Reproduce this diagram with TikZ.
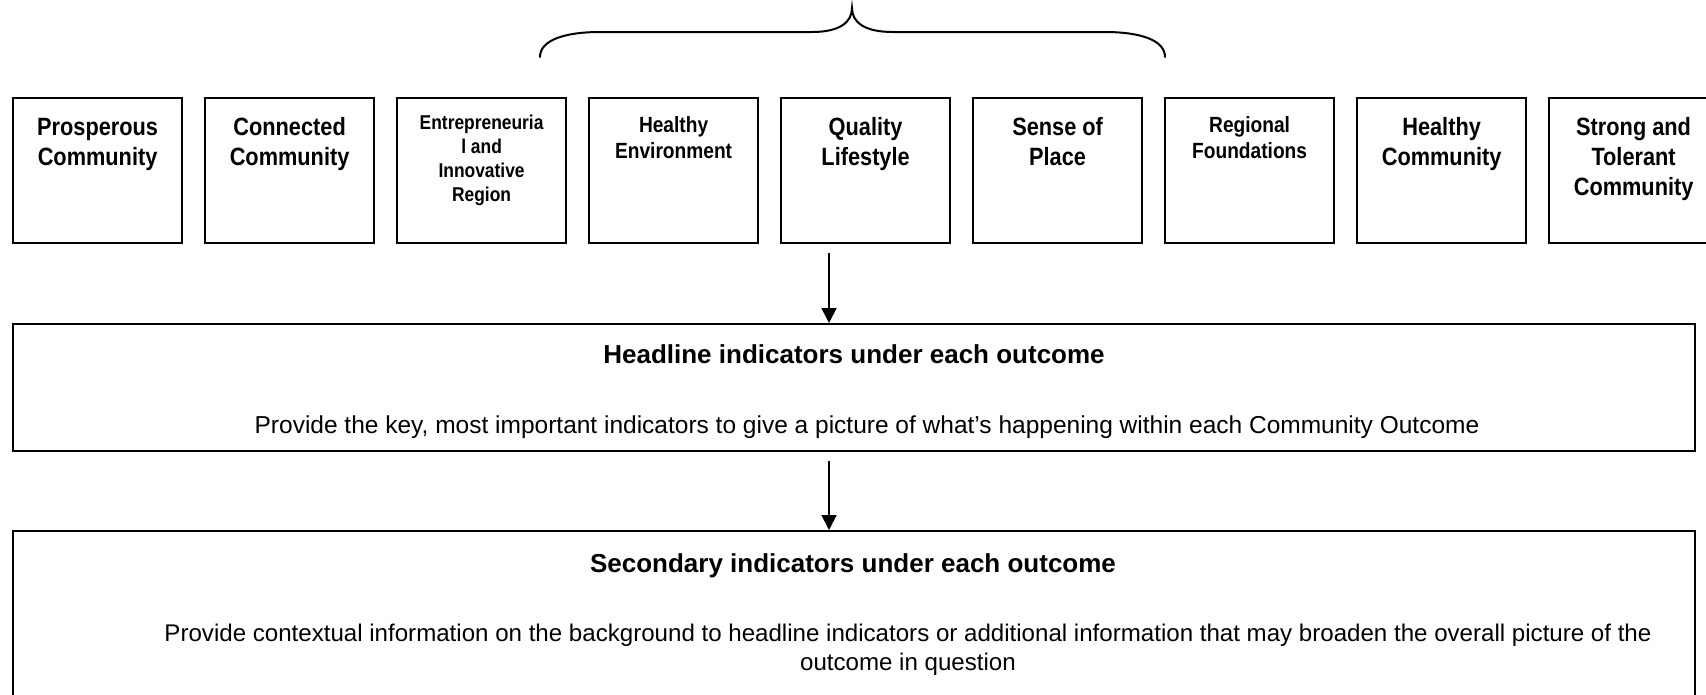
\documentclass[tikz,border=0pt]{standalone}
\usepackage{fontspec}
\setmainfont{Liberation Sans}
\newfontfamily\narrowfont{Liberation Sans}[FakeStretch=0.87]
\usetikzlibrary{arrows.meta,calc}
\begin{document}
\begin{tikzpicture}[x=1pt,y=-1pt,
  obox/.style={draw, line width=2.2pt, minimum width=169pt, minimum height=145pt, inner sep=0pt, anchor=north west},
  bigbox/.style={draw, line width=2pt, minimum width=1682pt, inner sep=0pt, anchor=north west},
  lab/.style={font=\narrowfont\bfseries\fontsize{25}{30}\selectfont, align=center, anchor=base, inner sep=0pt},
  labm/.style={font=\narrowfont\bfseries\fontsize{22}{26}\selectfont, align=center, anchor=base, inner sep=0pt},
  labs/.style={font=\narrowfont\bfseries\fontsize{20}{24}\selectfont, align=center, anchor=base, inner sep=0pt},
  ttl/.style={font=\bfseries\fontsize{26}{30}\selectfont, anchor=base, inner sep=0pt},
  bodytxt/.style={font=\fontsize{24.5}{29}\selectfont, align=center, anchor=base, inner sep=0pt},
  arr/.style={line width=1.8pt, -{Triangle[length=15pt,width=15pt]}},
  bracestyle/.style={line width=2pt, line cap=round}
]
\useasboundingbox (0,0) rectangle (1706,694);
\fill[white] (0,0) rectangle (1706,694);
\clip (0,0) rectangle (1706,694);

% brace
\draw[bracestyle] (540,57) .. controls (540,40) and (565,32) .. (600,32) -- (812,32)
  .. controls (840,32) and (852,22) .. (852,8)
  .. controls (852,22) and (864,32) .. (893,32) -- (1105,32)
  .. controls (1140,32) and (1165,40) .. (1165,57);

% outcome boxes
\node[obox] (b1) at (12,97) {};
\node[obox] (b2) at (204,97) {};
\node[obox] (b3) at (396,97) {};
\node[obox] (b4) at (588,97) {};
\node[obox] (b5) at (780,97) {};
\node[obox] (b6) at (972,97) {};
\node[obox] (b7) at (1164,97) {};
\node[obox] (b8) at (1356,97) {};
\node[obox] (b9) at (1548,97) {};

% labels (anchor base = baseline of last line)
\node[lab]  (t1) at ($(b1.north)+(0,68)$) {Prosperous\\Community};
\node[lab]  (t2) at ($(b2.north)+(0,68)$) {Connected\\Community};
\node[labs] (t3) at ($(b3.north)+(0,104)$) {Entrepreneuria\\l and\\Innovative\\Region};
\node[labm] (t4) at ($(b4.north)+(0,61)$) {Healthy\\Environment};
\node[lab]  (t5) at ($(b5.north)+(0,68)$) {Quality\\Lifestyle};
\node[lab]  (t6) at ($(b6.north)+(0,68)$) {Sense of\\Place};
\node[labm] (t7) at ($(b7.north)+(0,61)$) {Regional\\Foundations};
\node[lab]  (t8) at ($(b8.north)+(0,68)$) {Healthy\\Community};
\node[lab]  (t9) at ($(b9.north)+(0,98)$) {Strong and\\Tolerant\\Community};

% headline box
\node[bigbox, minimum height=127pt] (head) at (12,323) {};
\node[ttl] (htitle) at (854,363) {Headline indicators under each outcome};
\node[bodytxt] (hbody) at (867,433) {Provide the key, most important indicators to give a picture of what’s happening within each Community Outcome};

% secondary box
\node[bigbox, minimum height=200pt] (sec) at (12,530) {};
\node[ttl] (stitle) at (853,572) {Secondary indicators under each outcome};
\node[bodytxt, font=\fontsize{24.1}{29}\selectfont] (sbody) at (908,670) {Provide contextual information on the background to headline indicators or additional information that may broaden the overall picture of the\\outcome in question};

% arrows
\coordinate (a1) at (829,253);
\draw[arr] (a1) -- (a1 |- head.north);
\coordinate (a2) at (829,461);
\draw[arr] (a2) -- (a2 |- sec.north);
\end{tikzpicture}
\end{document}
